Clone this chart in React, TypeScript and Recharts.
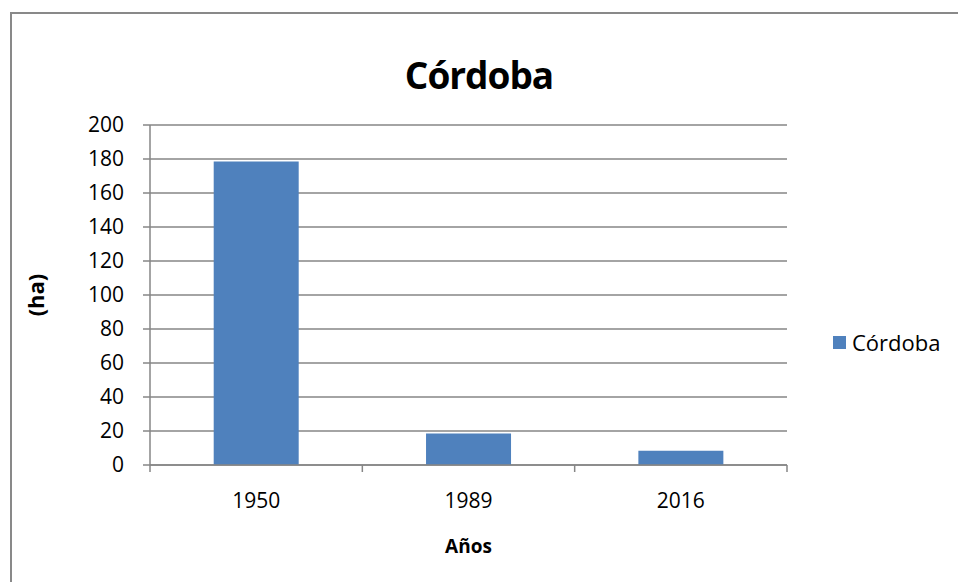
import React from 'react';
import { BarChart, Bar, XAxis, YAxis, CartesianGrid, Legend, Label } from 'recharts';

const categories = ['1950', '1989', '2016'];
const values = [178.6, 18.6, 8.4];
const yTicks = [0, 20, 40, 60, 80, 100, 120, 140, 160, 180, 200];
const seriesName = 'Córdoba';
const title = 'Córdoba';
const xTitle = 'Años';
const yTitle = '(ha)';

const data = categories.map((c, i) => ({ year: c, value: values[i] }));

const FONT = '"Open Sans", sans-serif';
const AXIS = '#868686';
const BAR = '#4F81BD';

const XTick = (props: any) => {
  const { x, y, payload, index, visibleTicksCount } = props;
  const off = payload && payload.offset ? payload.offset : 0;
  const last = index === visibleTicksCount - 1;
  return (
    <g>
      <line x1={x - off} x2={x - off} y1={y} y2={y + 7} stroke={AXIS} strokeWidth={1.5} />
      {last && <line x1={x + off} x2={x + off} y1={y} y2={y + 7} stroke={AXIS} strokeWidth={1.5} />}
      <text x={x} y={y + 43} textAnchor="middle" fontFamily={FONT} fontSize={21} fill="#000">
        {payload.value}
      </text>
    </g>
  );
};

const LegendContent = () => (
  <div style={{ display: 'flex', alignItems: 'center', fontFamily: FONT, fontSize: 22, color: '#000' }}>
    <span style={{ display: 'inline-block', width: 13, height: 13, background: BAR, marginRight: 6 }} />
    <span>{seriesName}</span>
  </div>
);

export default function App() {
  return (
    <div style={{ position: 'absolute', left: 0, top: 0, width: 958, height: 582, background: '#fff', overflow: 'hidden' }}>
      <div style={{ position: 'absolute', left: 10, top: 12, width: 1100, height: 1100, border: '2px solid #898989', boxSizing: 'border-box' }} />
      <div style={{ position: 'absolute', left: 0, top: 52, width: 958, textAlign: 'center', fontFamily: FONT, fontWeight: 700, fontSize: 37, letterSpacing: -1, lineHeight: '46px', color: '#000' }}>
        {title}
      </div>
      <div style={{ position: 'absolute', left: 0, top: 0 }}>
        <BarChart width={958} height={582} data={data} margin={{ top: 125, right: 171, bottom: 77, left: 0 }} barCategoryGap="30%">
          <CartesianGrid vertical={false} stroke={AXIS} strokeWidth={1.5} />
          <XAxis
            dataKey="year"
            height={40}
            tickSize={0}
            tickMargin={0}
            tick={<XTick />}
            axisLine={{ stroke: AXIS, strokeWidth: 1.5 }}
          >
            <Label
              content={(p: any) => {
                const vb = p.viewBox;
                return (
                  <text x={vb.x + vb.width / 2} y={553} textAnchor="middle" fontFamily={FONT} fontWeight={700} fontSize={19} fill="#000">
                    {xTitle}
                  </text>
                );
              }}
            />
          </XAxis>
          <YAxis
            width={150}
            domain={[0, 200]}
            ticks={yTicks}
            interval={0}
            tickSize={7}
            tickMargin={19}
            tick={{ fontFamily: FONT, fontSize: 21, fill: '#000' }}
            tickLine={{ stroke: AXIS, strokeWidth: 1.5 }}
            axisLine={{ stroke: AXIS, strokeWidth: 1.5 }}
          >
            <Label
              content={(p: any) => {
                const vb = p.viewBox;
                const cx = 44;
                const cy = vb.y + vb.height / 2;
                return (
                  <text x={cx} y={cy} transform={`rotate(-90 ${cx} ${cy})`} textAnchor="middle" fontFamily={FONT} fontWeight={700} fontSize={22} fill="#000">
                    {yTitle}
                  </text>
                );
              }}
            />
          </YAxis>
          <Legend
            layout="horizontal"
            verticalAlign="middle"
            align="center"
            content={<LegendContent />}
            wrapperStyle={{ left: 833, top: 327, width: 125 }}
          />
          <Bar dataKey="value" name={seriesName} fill={BAR} isAnimationActive={false} />
        </BarChart>
      </div>
    </div>
  );
}
